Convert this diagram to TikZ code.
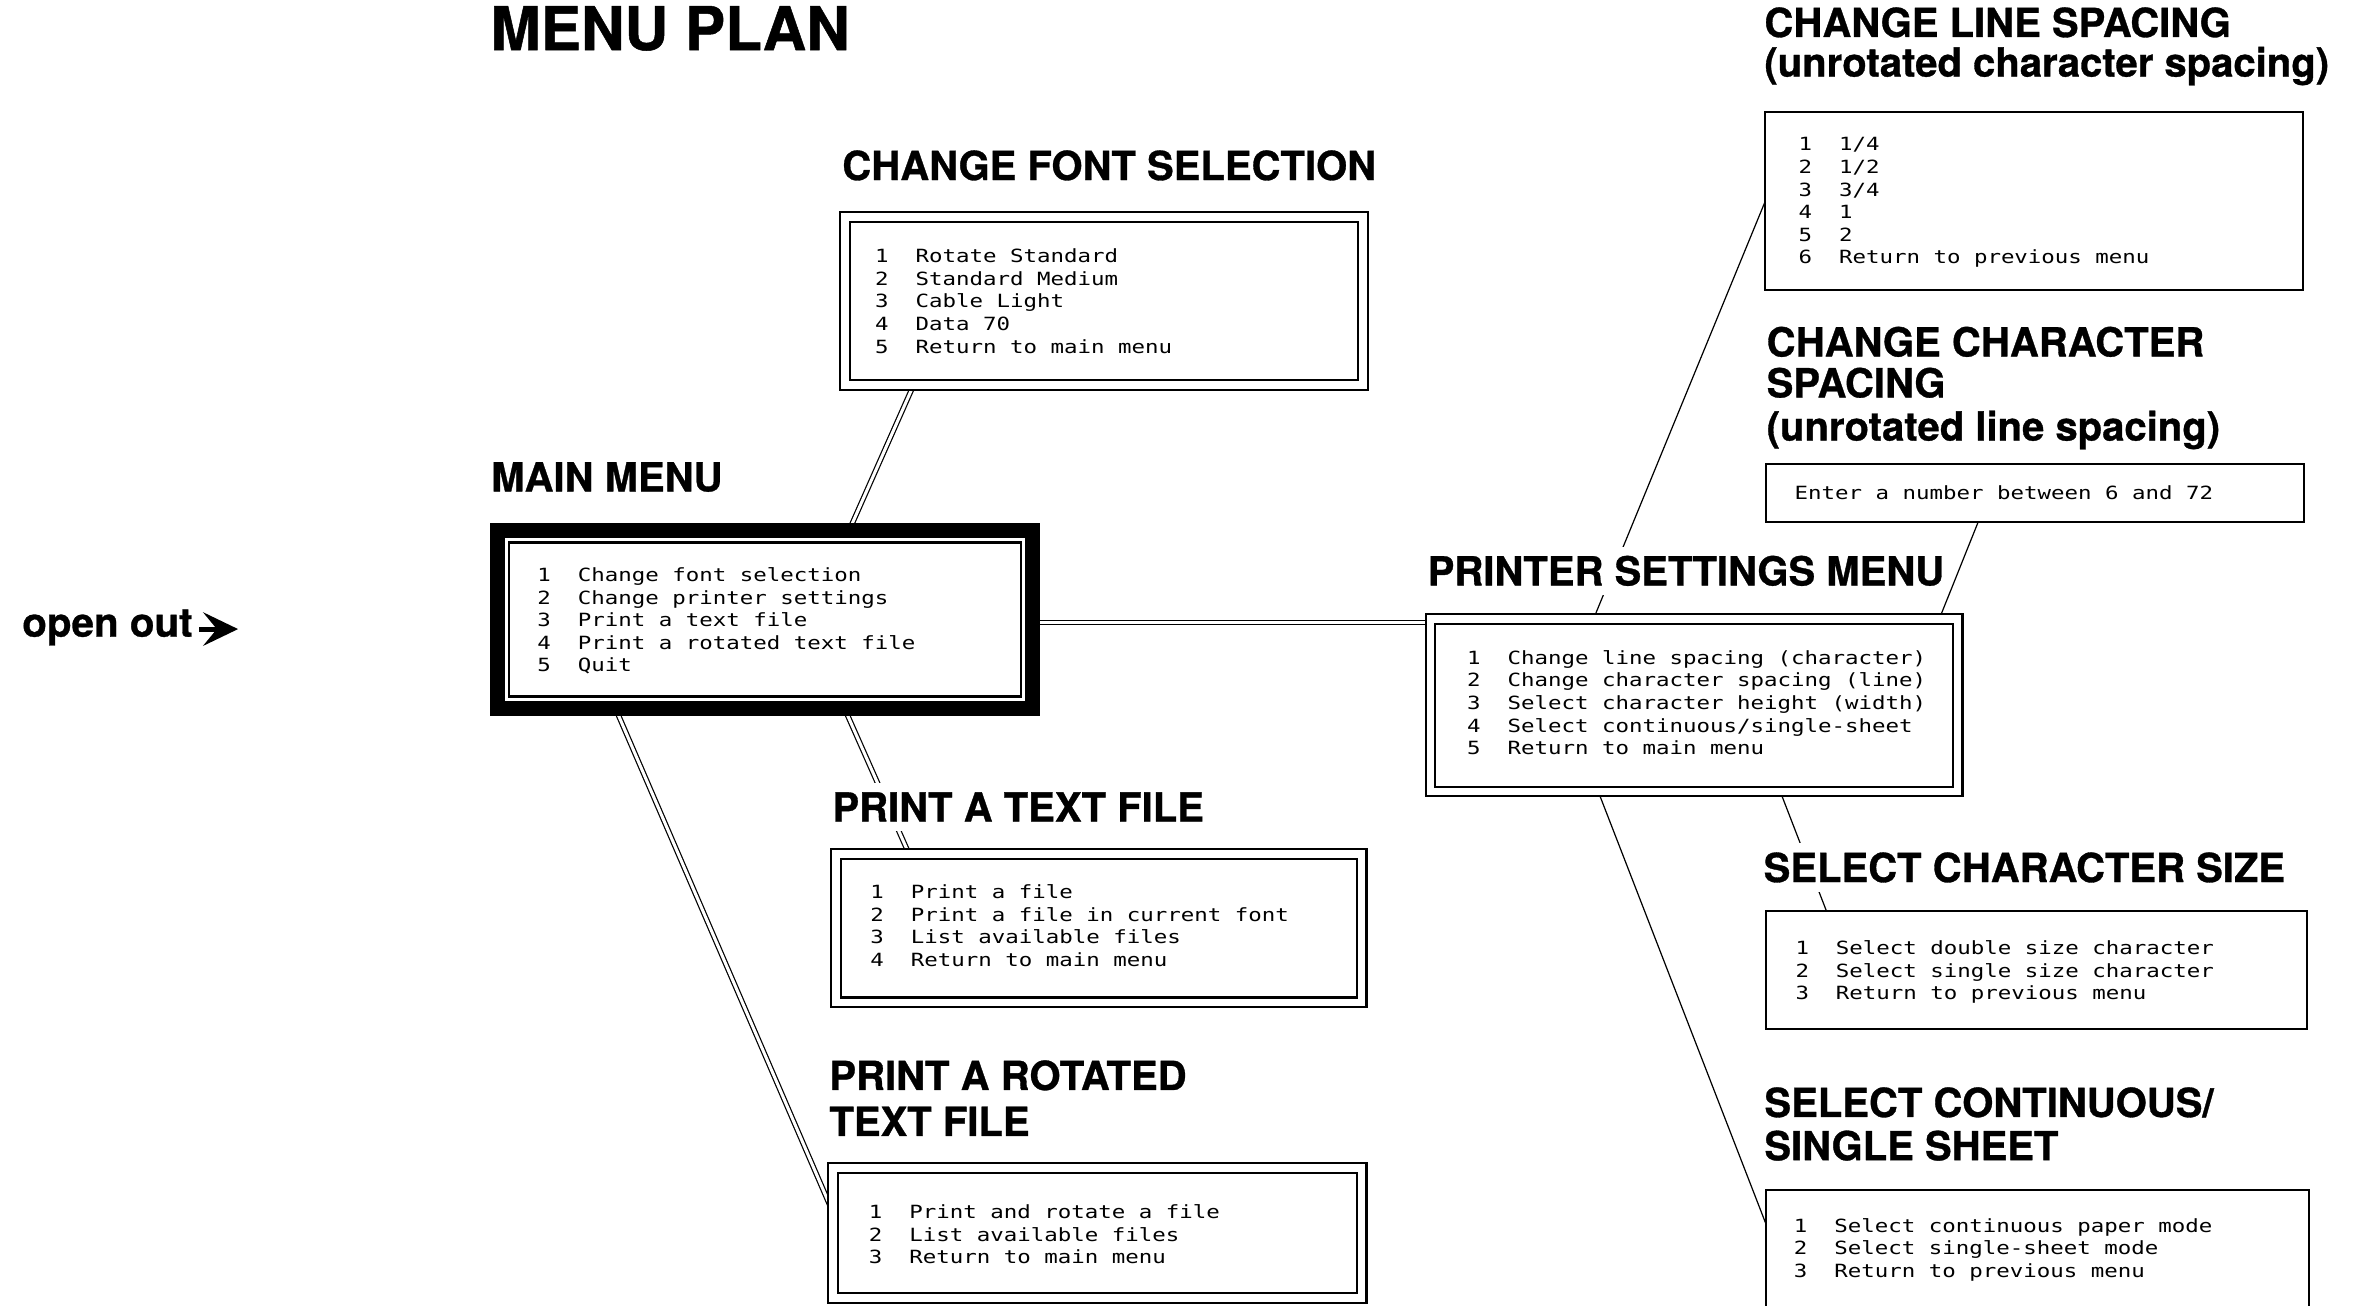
\documentclass[tikz,border=0pt]{standalone}
\usepackage{fontspec}
\newfontfamily\hdfont{TeX Gyre Heros}[BoldFeatures={FakeBold=0.8}]
\newfontfamily\monofont{DejaVu Sans Mono}[FakeStretch=1.232]
\usetikzlibrary{calc,fit,arrows.meta}
\pgfdeclarelayer{bg}
\pgfsetlayers{bg,main}
\newcommand\mlines[1]{\vtop{\setbox0\hbox{0}\spaceskip=\wd0\relax\frenchspacing\baselineskip=7.45pt\lineskiplimit=-20pt\lineskip=0pt #1}}
\newcommand\ml[1]{\hbox{#1}}
\begin{document}
\begin{tikzpicture}[x=0.5pt,y=-0.5pt,
  hd/.style={font=\hdfont\bfseries\fontsize{13.2pt}{13.2pt}\selectfont, anchor=base west, inner xsep=0pt, inner ysep=3pt, fill=white},
  ttl/.style={font=\hdfont\bfseries\fontsize{19.9pt}{19.9pt}\selectfont, anchor=base west, inner sep=0pt},
  txt/.style={font=\monofont\fontsize{6pt}{7.45pt}\selectfont, anchor=base west, inner sep=0pt},
  dbox/.style={draw=black, line width=0.7pt, double=white, double distance=2.45pt, fill=white, inner sep=0pt, outer sep=0pt},
  sbox/.style={draw=black, line width=0.7pt, fill=white, inner sep=0pt, outer sep=0pt},
  dcon/.style={draw=black, line width=0.4pt, double=white, double distance=1pt},
  scon/.style={draw=black, line width=0.4pt}]
\useasboundingbox (0,0) rectangle (1568,860.5);

% ---------- boxes ----------
\node[dbox, fit={(557.15,143.15) (898.85,253.85)}] (fontbox) {};
\node[draw=black, line width=5pt, fill=white, inner sep=0pt, outer sep=0pt, fit={(328,350) (681,467)}] (mainbox) {};
\node[draw=black, line width=0.75pt, inner sep=0pt, outer sep=0pt, fit={(335.75,357.75) (673.25,459.25)}] (maininner) {};
\node[dbox, fit={(943.15,408.15) (1290.85,521.85)}] (prbox) {};
\node[dbox, fit={(551.15,563.15) (897.85,660.85)}] (textbox) {};
\node[dbox, fit={(549.15,770.15) (897.85,855.85)}] (rotbox) {};
\node[sbox, fit={(1163.7,73.7) (1518.3,191.3)}] (lsbox) {};
\node[sbox, fit={(1164.7,305.7) (1519.3,344.3)}] (csbox) {};
\node[sbox, fit={(1164.7,600.7) (1521.3,678.3)}] (szbox) {};
\node[sbox, fit={(1164.7,784.7) (1522.3,880)}] (ctbox) {};

% ---------- headings ----------
\node[ttl] (title) at (323,33) {MENU PLAN};
\node[hd] (hfont) at (555,118.7) {CHANGE FONT SELECTION};
\node[hd] (hmain) at (323.5,324) {MAIN MENU};
\node[hd] (hpr) at (941,386) {PRINTER SETTINGS MENU};
\node[hd] (htext) at (548.5,541.7) {PRINT A TEXT FILE};
\node[hd] (hrotA) at (546.5,718.7) {PRINT A ROTATED};
\node[hd] (hrotB) at (546.5,749) {TEXT FILE};
\node[hd] (hlsA) at (1163,24.4) {CHANGE LINE SPACING};
\node[hd] (hlsB) at (1163,50.5) {(unrotated character spacing)};
\node[hd] (hcsA) at (1164.5,235) {CHANGE CHARACTER};
\node[hd] (hcsB) at (1164.5,262) {SPACING};
\node[hd] (hcsC) at (1164.5,290.5) {(unrotated line spacing)};
\node[hd] (hsz) at (1162.5,581.6) {SELECT CHARACTER SIZE};
\node[hd] (hctA) at (1163,736.5) {SELECT CONTINUOUS/};
\node[hd] (hctB) at (1163,765) {SINGLE SHEET};

% ---------- menu texts ----------
\node[txt] (tfont) at (576.6,173.2) {\mlines{%
  \ml{1\ \ Rotate Standard}\ml{2\ \ Standard Medium}\ml{3\ \ Cable Light}%
  \ml{4\ \ Data 70}\ml{5\ \ Return to main menu}}};
\node[txt] (tmain) at (354,383.5) {\mlines{%
  \ml{1\ \ Change font selection}\ml{2\ \ Change printer settings}%
  \ml{3\ \ Print a text file}\ml{4\ \ Print a rotated text file}\ml{5\ \ Quit}}};
\node[txt] (tpr) at (967,438) {\mlines{%
  \ml{1\ \ Change line spacing (character)}\ml{2\ \ Change character spacing (line)}%
  \ml{3\ \ Select character height (width)}\ml{4\ \ Select continuous/single-sheet}%
  \ml{5\ \ Return to main menu}}};
\node[txt] (ttext) at (573.5,592.5) {\mlines{%
  \ml{1\ \ Print a file}\ml{2\ \ Print a file in current font}%
  \ml{3\ \ List available files}\ml{4\ \ Return to main menu}}};
\node[txt] (trot) at (572.5,803.5) {\mlines{%
  \ml{1\ \ Print and rotate a file}\ml{2\ \ List available files}%
  \ml{3\ \ Return to main menu}}};
\node[txt] (tls) at (1185.5,99.5) {\mlines{%
  \ml{1\ \ 1/4}\ml{2\ \ 1/2}\ml{3\ \ 3/4}\ml{4\ \ 1}\ml{5\ \ 2}%
  \ml{6\ \ Return to previous menu}}};
\node[txt] (tcs) at (1183,329.5) {\mlines{\ml{Enter a number between 6 and 72}}};
\node[txt] (tsz) at (1183.5,629.5) {\mlines{%
  \ml{1\ \ Select double size character}\ml{2\ \ Select single size character}%
  \ml{3\ \ Return to previous menu}}};
\node[txt] (tct) at (1182.5,812.5) {\mlines{%
  \ml{1\ \ Select continuous paper mode}\ml{2\ \ Select single-sheet mode}%
  \ml{3\ \ Return to previous menu}}};

% ---------- open out ----------
\node[hd, fill=none, inner ysep=0pt, font=\hdfont\bfseries\fontsize{13.3pt}{13.3pt}\selectfont] (openout) at (14.3,419.8) {open out};
\coordinate (arrowstart) at (131.5,414.8);
\coordinate (arrowtip) at (157,414.8);
\draw[line width=1.6pt, -{Stealth[length=11.5pt, width=11pt, inset=4.5pt]}] (arrowstart) -- (arrowtip);

% ---------- connectors ----------
\begin{pgfonlayer}{bg}
\draw[dcon] ($(mainbox.north west)+(231.8,0)$) -- ($(fontbox.south west)+(45.25,0)$);
\draw[dcon] ($(mainbox.south west)+(228.8,0)$) -- ($(textbox.north west)+(48.25,0)$);
\draw[dcon] ($(mainbox.south west)+(77.8,0)$) -- ($(rotbox.north west)+(0,29.15)$);
\draw[dcon] ($(mainbox.east)+(0,2)$) -- ($(prbox.north west)+(0,2.35)$);
\draw[scon] ($(prbox.north west)+(107.55,0)$) -- ($(lsbox.north west)+(0,59.6)$);
\draw[scon] ($(prbox.north west)+(335.55,0)$) -- ($(csbox.south west)+(139.6,0)$);
\draw[scon] ($(prbox.south west)+(230.65,0)$) -- ($(szbox.north west)+(39.6,0)$);
\draw[scon] ($(prbox.south west)+(110.65,0)$) -- ($(ctbox.north west)+(0,23.1)$);
\end{pgfonlayer}
\end{tikzpicture}
\end{document}
